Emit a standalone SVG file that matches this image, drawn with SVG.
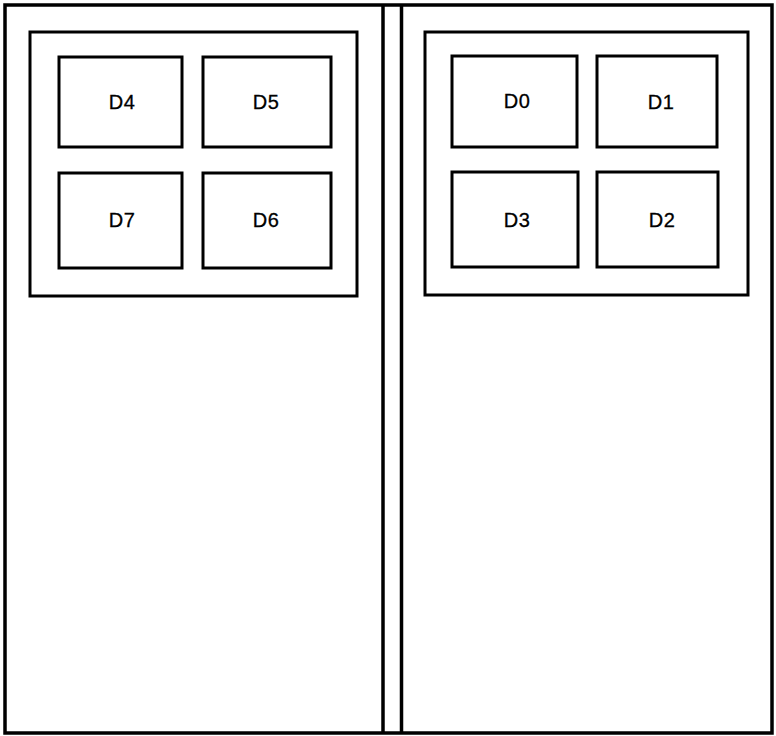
<svg xmlns="http://www.w3.org/2000/svg" width="776" height="736" viewBox="0 0 776 736">
<style>
.frame{fill:none;stroke:#000;stroke-width:3.5}
.line{stroke:#000;stroke-width:3.5}
.box{fill:#fff;stroke:#000;stroke-width:3}
.lbl{font-family:"Liberation Sans",Arial,sans-serif;font-size:20px;text-anchor:middle;fill:#000;stroke:#000;stroke-width:0.3;letter-spacing:0.5px}
</style>
<rect width="776" height="736" fill="#fff"/>
<g id="cabinet">
<rect class="frame" x="5" y="5" width="767" height="728"/>
<line class="line" x1="383" y1="5" x2="383" y2="733"/>
<line class="line" x1="401.5" y1="5" x2="401.5" y2="733"/>
</g>
<g id="panel-left"><rect class="box" x="30" y="32" width="327" height="264"/></g>
<g id="panel-right"><rect class="box" x="425" y="32" width="323" height="263"/></g>
<g id="D4"><rect class="box" x="59" y="57" width="123" height="90"/><text class="lbl" x="122" y="109">D4</text></g>
<g id="D5"><rect class="box" x="203" y="57" width="128" height="90"/><text class="lbl" x="266" y="109">D5</text></g>
<g id="D7"><rect class="box" x="59" y="173" width="123" height="95"/><text class="lbl" x="122" y="227">D7</text></g>
<g id="D6"><rect class="box" x="203" y="173" width="128" height="95"/><text class="lbl" x="266" y="227">D6</text></g>
<g id="D0"><rect class="box" x="452" y="56" width="125" height="91"/><text class="lbl" x="517" y="108">D0</text></g>
<g id="D1"><rect class="box" x="597" y="56" width="120" height="91"/><text class="lbl" x="661" y="109">D1</text></g>
<g id="D3"><rect class="box" x="452" y="172" width="126" height="95"/><text class="lbl" x="517" y="227">D3</text></g>
<g id="D2"><rect class="box" x="597" y="172" width="121" height="95"/><text class="lbl" x="662" y="227">D2</text></g>
<g id="connectors"></g>
</svg>
